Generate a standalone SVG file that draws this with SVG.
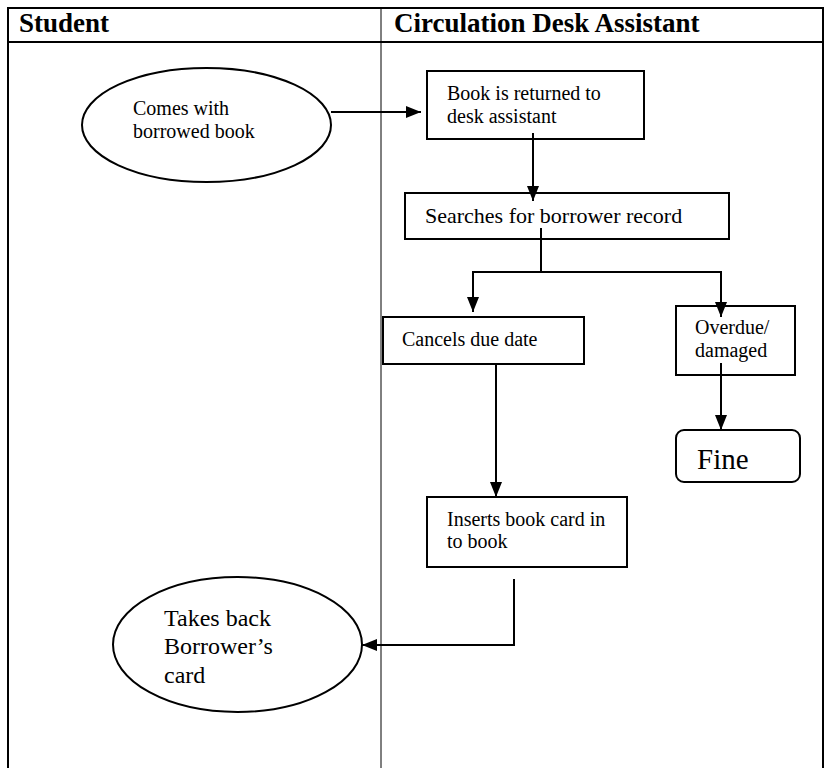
<svg xmlns="http://www.w3.org/2000/svg" width="831" height="768" viewBox="0 0 831 768">
<style>
  .t { font-family: "Liberation Serif", "Times New Roman", serif; fill: #000; }
  .hd { font-weight: bold; font-size: 27px; }
  .shape { fill: #fff; stroke: #000; stroke-width: 2; }
  .conn { fill: none; stroke: #000; stroke-width: 2; }
  .grid { stroke: #000; fill: none; }
</style>
<defs>
  <marker id="arr" markerUnits="userSpaceOnUse" markerWidth="15" markerHeight="12" refX="15" refY="6" orient="auto">
    <path d="M0,0 L15,6 L0,12 z" fill="#000"/>
  </marker>
</defs>
<rect width="831" height="768" fill="#fff"/>
<g id="table">
  <path class="grid" stroke-width="2" d="M8,768 V8 H823 V768"/>
  <path class="grid" stroke-width="2" d="M8,42 H823"/>
  <path class="grid" stroke-width="1" d="M381,8 V768"/>
  <text class="t hd" x="19" y="32">Student</text>
  <text class="t hd" x="394" y="32">Circulation Desk Assistant</text>
</g>
<g id="comes">
  <ellipse class="shape" cx="206.5" cy="125" rx="124.5" ry="57"/>
  <text class="t" font-size="20" x="133" y="115">Comes with</text>
  <text class="t" font-size="20" x="133" y="138">borrowed book</text>
</g>
<g id="returned">
  <rect class="shape" x="427" y="71" width="217" height="68"/>
  <text class="t" font-size="20" x="447" y="100">Book is returned to</text>
  <text class="t" font-size="20" x="447" y="123">desk assistant</text>
</g>
<g id="searches">
  <rect class="shape" x="405" y="193" width="324" height="46"/>
  <text class="t" font-size="22" x="425" y="223">Searches for borrower record</text>
</g>
<g id="cancels">
  <rect class="shape" x="383" y="317" width="201" height="47"/>
  <text class="t" font-size="20" x="402" y="346">Cancels due date</text>
</g>
<g id="overdue">
  <rect class="shape" x="676" y="306" width="119" height="69"/>
  <text class="t" font-size="20" x="695" y="334">Overdue/</text>
  <text class="t" font-size="20" x="695" y="357">damaged</text>
</g>
<g id="fine">
  <rect class="shape" x="676" y="430" width="124" height="52" rx="8" ry="8"/>
  <text class="t" font-size="29" x="697" y="469">Fine</text>
</g>
<g id="inserts">
  <rect class="shape" x="427" y="497" width="200" height="70"/>
  <text class="t" font-size="20" x="447" y="526">Inserts book card in</text>
  <text class="t" font-size="20" x="447" y="548">to book</text>
</g>
<g id="takes">
  <ellipse class="shape" cx="237.5" cy="644.5" rx="124.5" ry="67.5"/>
  <text class="t" font-size="24" x="164" y="626">Takes back</text>
  <text class="t" font-size="24" x="164" y="654">Borrower’s</text>
  <text class="t" font-size="24" x="164" y="683">card</text>
</g>
<g id="connectors">
  <path class="conn" d="M331,112 H421" marker-end="url(#arr)"/>
  <path class="conn" d="M533,133 V201" marker-end="url(#arr)"/>
  <path class="conn" d="M541,228 V272"/>
  <path class="conn" d="M541,272 H473 V312" marker-end="url(#arr)"/>
  <path class="conn" d="M541,272 H721 V317" marker-end="url(#arr)"/>
  <path class="conn" d="M721,363 V430" marker-end="url(#arr)"/>
  <path class="conn" d="M496,363 V497" marker-end="url(#arr)"/>
  <path class="conn" d="M514,579 V645 H362" marker-end="url(#arr)"/>
</g>
</svg>
